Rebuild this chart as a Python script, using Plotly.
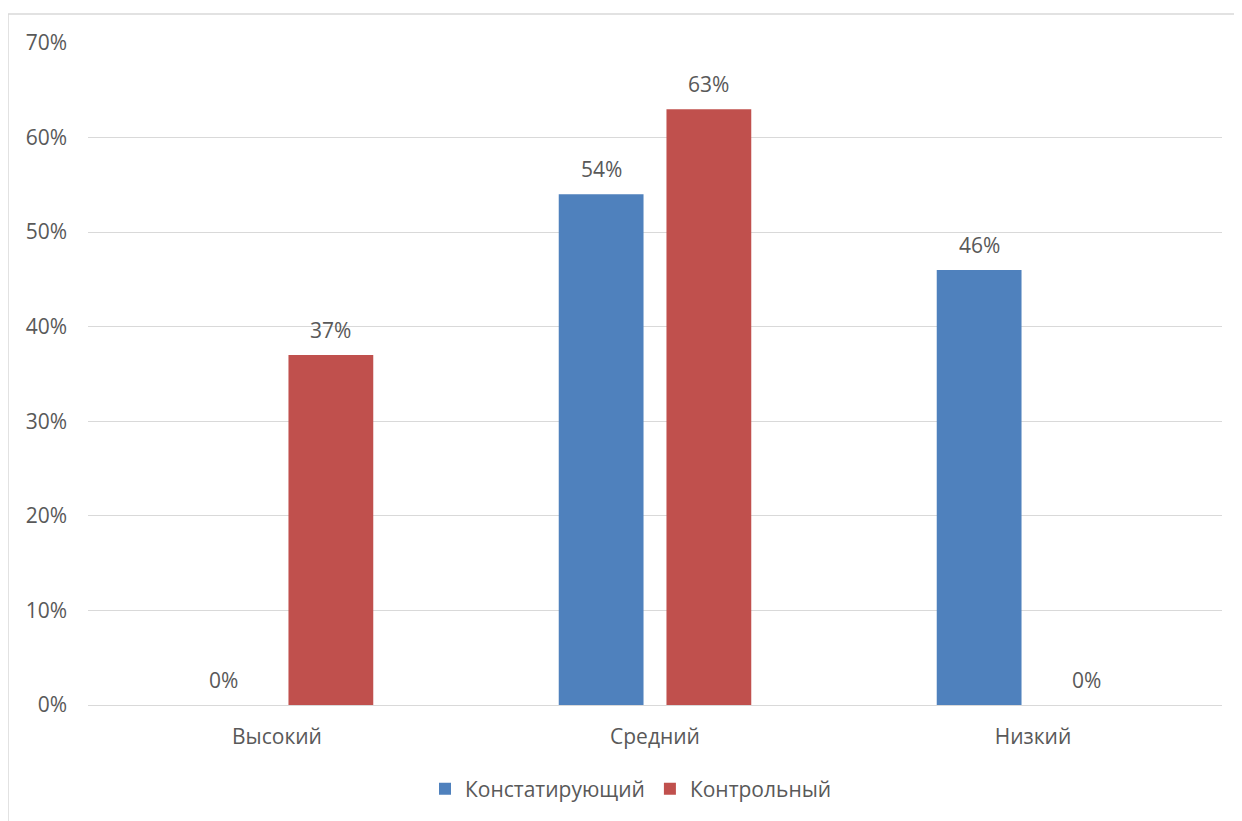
import plotly.graph_objects as go

categories = ["Высокий", "Средний", "Низкий"]
series_names = ["Констатирующий", "Контрольный"]
konst = [0.0, 0.54, 0.46]
kontr = [0.37, 0.63, 0.0]
colors = ["#4F81BD", "#C0504D"]

# page body adds an 8px offset; compensate
W, H = 1234, 813
L, R, T, B = 80, 20, 35, 116
pw, ph = W - L - R, H - T - B

font = dict(family="Open Sans, Liberation Sans, sans-serif", size=21, color="#595959")

fig = go.Figure()
for name, vals, col in zip(series_names, [konst, kontr], colors):
    fig.add_trace(go.Bar(
        x=categories, y=vals, name=name, marker=dict(color=col, line=dict(width=0)),
    ))

# data labels above each bar
slot_px = pw / len(categories) * (1 - 0.43) / 2
for i, (vals, sign) in enumerate(zip([konst, kontr], [-1, 1])):
    for c, v in zip(categories, vals):
        fig.add_annotation(x=c, y=v, xref="x", yref="y", text=f"{round(v*100)}%",
                           showarrow=False, xanchor="center", yanchor="middle",
                           xshift=sign * slot_px / 2, yshift=25, font=font)

fig.update_layout(
    width=W, height=H,
    margin=dict(l=L, r=R, t=T, b=B),
    paper_bgcolor="white", plot_bgcolor="white",
    barmode="group", bargap=0.43, bargroupgap=0.213,
    font=font,
    showlegend=True,
    legend=dict(orientation="h", x=0.5 - 24 / pw, xanchor="center", y=-(781 - 697) / ph, yanchor="middle",
                font=font, itemwidth=30, traceorder="normal"),
    xaxis=dict(showgrid=False, showline=True, linecolor="#D9D9D9", linewidth=1,
               ticks="", tickfont=font, ticklabelstandoff=13),
    yaxis=dict(range=[0, 0.7], dtick=0.1, tickformat=".0%", showgrid=True,
               gridcolor="#D9D9D9", gridwidth=1, zeroline=False, showline=False,
               ticks="", tickfont=font, ticklabelstandoff=20),
)

fig.add_shape(type="rect", xref="paper", yref="paper",
              x0=(0 - L) / pw, x1=1.2, y0=-0.5, y1=(H - B - 6) / ph,
              line=dict(color="#D9D9D9", width=1.5), fillcolor="rgba(0,0,0,0)", layer="below")

fig.write_html("out.html")
